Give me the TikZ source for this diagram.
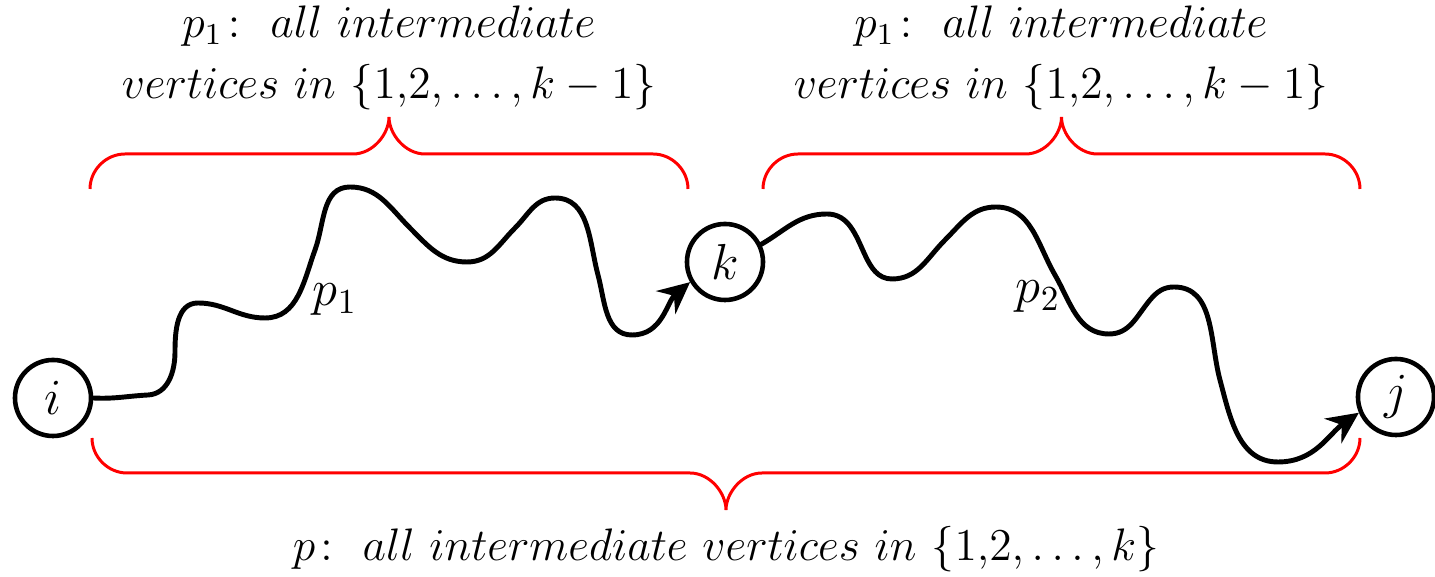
\documentclass[tikz,border=0pt]{standalone}
\usepackage{amsmath}
\usepackage{tikz}
\usetikzlibrary{arrows.meta}

\begin{document}
\begin{tikzpicture}[
    x=0.01cm, y=-0.01cm,
    vertex/.style={circle, draw, line width=1.3pt, minimum size=0.76cm, inner sep=0pt, font=\fontsize{14}{16}\selectfont},
    wire/.style={line width=1.4pt, line cap=round, -{Stealth[length=9pt, width=8.5pt, inset=3pt]}},
    brace/.style={draw=red, line width=0.85pt},
    lbl/.style={font=\fontsize{14}{16}\selectfont},
    note/.style={align=center, scale=1.08, font=\fontsize{12}{16.1}\selectfont},
]
    \useasboundingbox (0,0) rectangle (1435,577);

    % Vertices
    \node[vertex] (i) at (53,398) {$i$};
    \node[vertex] (k) at (725,262) {$k$};
    \node[vertex] (j) at (1396,397) {$j$};

    % Path p1 (i -> k)
    \draw[wire] (i.east) to[out=-3, in=183] (148,395) to[out=3, in=-90] (175,352)
        to[out=90, in=180] (198,303)
        to[out=0, in=180] (265,318) to[out=0, in=250] (315,250)
        to[out=70, in=180] (350,187) to[out=0, in=135] (410,228)
        to[out=-45, in=180] (467,262) to[out=0, in=225] (515,228)
        to[out=45, in=180] (555,198) to[out=0, in=105] (598,275)
        to[out=-75, in=180] (632,335) to[out=0, in=220] (k.210);
    \node[lbl] (p1) at (335,300) {$p_1$};

    % Path p2 (k -> j)
    \draw[wire] (k.26) to[out=30, in=180] (827,214) to[out=0, in=115] (865,255)
        to[out=-65, in=180] (892,279) to[out=0, in=225] (945,240)
        to[out=45, in=180] (996,207) to[out=0, in=120] (1055,275)
        to[out=-60, in=180] (1109,334) to[out=0, in=230] (1150,300)
        to[out=50, in=180] (1174,287) to[out=0, in=105] (1220,380)
        to[out=-75, in=180] (1278,462) to[out=0, in=215] (j.203);
    \node[lbl] (p2) at (1038,297) {$p_2$};

    % Braces
    \foreach \l/\r/\h/\d in {90/688/154/1, 763/1360/154/1, 92/1360/473/-1} {
        \pgfmathsetmacro\m{(\l+\r)/2}
        \draw[brace] (\l,\h+35*\d) .. controls (\l,\h+16*\d) and (\l+16,\h) .. (\l+35,\h)
            -- (\m-36,\h) .. controls (\m-16,\h) and (\m,\h-20*\d) .. (\m,\h-37*\d)
            .. controls (\m,\h-20*\d) and (\m+16,\h) .. (\m+36,\h)
            -- (\r-35,\h) .. controls (\r-16,\h) and (\r,\h+16*\d) .. (\r,\h+35*\d);
    }

    % Labels
    \node[note] (t1) at (389,58) {$p_1\colon\ all\ intermediate$\\$vertices\ in\ \{1{,}2,\ldots,k-1\}$};
    \node[note] (t2) at (1061,58) {$p_1\colon\ all\ intermediate$\\$vertices\ in\ \{1{,}2,\ldots,k-1\}$};
    \node[note] (t3) at (726,549) {$p\colon\ all\ intermediate\ vertices\ in\ \{1{,}2,\ldots,k\}$};
\end{tikzpicture}
\end{document}
